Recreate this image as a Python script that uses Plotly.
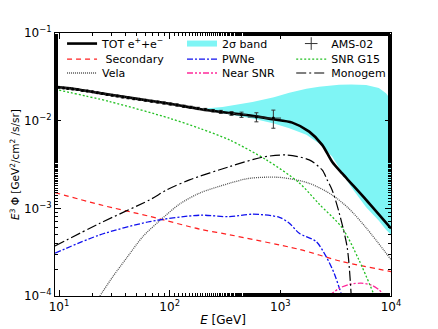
import plotly.graph_objects as go

# ---- data (E in GeV, E^3 Phi in GeV^2/cm^2/s/sr) ----
tot_e = [9.2, 12.6, 23.4, 40, 66, 110, 186, 370, 600, 847, 1282, 1824, 2388, 2937, 3622, 4365, 5960, 10000]
tot_flux = [0.0242, 0.0234, 0.0206, 0.0186, 0.0169, 0.0153, 0.0136, 0.0121, 0.0112, 0.0104, 0.0095,
            0.0075, 0.0053, 0.0034, 0.0025, 0.00193, 0.00125, 0.00059]

band_e = [200, 300, 560, 875, 1205, 1720, 2240, 2937, 3400, 4365, 5960, 7770, 9016, 10000]
band_hi = [0.0137, 0.0143, 0.0163, 0.0185, 0.0208, 0.0232, 0.0244, 0.0255, 0.0257, 0.0258,
           0.0255, 0.0236, 0.0205, 0.0172]
band_lo = [0.0133, 0.0121, 0.0106, 0.0093, 0.0082, 0.0069, 0.0055, 0.0039, 0.0029, 0.00175,
           0.00103, 0.00072, 0.00057, 0.0005]

ams_e = [10, 11, 12, 13.3, 14.7, 16.3, 18, 20, 22.2, 24.6, 27.3, 30.3, 33.7, 37.7, 42.3, 47.6,
         53.6, 60.6, 68.6, 77.9, 88.9, 101.6, 116.6, 134.3, 155.2, 180, 210, 246, 290, 362, 446, 608, 865]
ams_flux = [0.0240, 0.0236, 0.0233, 0.0229, 0.0226, 0.0221, 0.0218, 0.0214, 0.0208, 0.0204, 0.0199,
            0.0195, 0.0191, 0.0186, 0.0182, 0.0178, 0.0175, 0.0171, 0.0167, 0.0163, 0.0159, 0.0155,
            0.0151, 0.0146, 0.0142, 0.0138, 0.0134, 0.0130, 0.0126, 0.0121, 0.0117, 0.0110, 0.0107]
ams_err = [0.0004, 0.0004, 0.0004, 0.0004, 0.0004, 0.0004, 0.0004, 0.0004, 0.0004, 0.0004, 0.0004,
           0.0004, 0.0004, 0.0004, 0.0004, 0.0004, 0.0004, 0.0004, 0.0004, 0.0004, 0.0004, 0.0004,
           0.0004, 0.0004, 0.0004, 0.0004, 0.0004, 0.0004, 0.0005, 0.0006, 0.0008, 0.0013, 0.0025]
ams_xerr = [0.4, 0.5, 0.5, 0.6, 0.7, 0.7, 0.8, 0.9, 1.0, 1.1, 1.2, 1.4, 1.5, 1.7, 1.9, 2.2, 2.4, 2.8,
            3.1, 3.6, 4.1, 4.6, 5.4, 6.2, 7.2, 8.5, 10, 12, 15, 30, 50, 100, 150]

sec_e = [9.2, 23.4, 66, 186, 347, 1483, 3622, 10000]
sec_flux = [0.00151, 0.00110, 0.00081, 0.00058, 0.00050, 0.00034, 0.000247, 0.00019]

pwn_e = [9.2, 23.4, 66, 186, 347, 560, 980, 1205, 1483, 2110, 2595, 3063, 3400, 3700]
pwn_flux = [0.000308, 0.000498, 0.000705, 0.000834, 0.000803, 0.000857, 0.000790, 0.000676,
            0.00052, 0.000417, 0.000281, 0.000182, 0.000125, 0.00009]

snr_e = [9.2, 28.8, 100, 186, 347, 748, 1483, 2240, 3623, 5130, 7100]
snr_flux = [0.0228, 0.0165, 0.01064, 0.00818, 0.00603, 0.00357, 0.00195, 0.00112, 0.000598,
            0.000258, 0.0001]

vela_e = [23.4, 30.6, 40.7, 57.1, 81, 123, 186, 347, 526, 1000, 1824, 2937, 4140, 5960, 10000]
vela_flux = [0.0001, 0.000166, 0.00027, 0.000475, 0.00072, 0.00112, 0.00149, 0.00193, 0.0022,
             0.00225, 0.00193, 0.00142, 0.0010, 0.0006, 0.00026]

near_e = [2750, 3390, 4140, 5360, 6680, 7770, 8800]
near_flux = [0.0001, 0.000122, 0.000135, 0.00014, 0.000133, 0.000118, 0.0001]

mono_e = [9.2, 23.4, 66, 94, 151, 347, 689, 1132, 1824, 2388, 2650, 2937, 3400, 4018, 4365]
mono_flux = [0.000372, 0.000676, 0.00125, 0.00162, 0.00211, 0.00299, 0.00383, 0.00406, 0.00357,
             0.00274, 0.00211, 0.00162, 0.00089, 0.00036, 0.000103]

x_ticks = [10, 100, 1000, 10000]
x_ticktext = ["10<sup>1</sup>", "10<sup>2</sup>", "10<sup>3</sup>", "10<sup>4</sup>"]
y_ticks = [1e-4, 1e-3, 1e-2, 1e-1]
y_ticktext = ["10<sup>−4</sup>", "10<sup>−3</sup>", "10<sup>−2</sup>", "10<sup>−1</sup>"]

FONT = "DejaVu Sans, sans-serif"
BAND = "#7ff5f5"

# legend slots: 3 columns x 3 rows, one small legend per entry
LEG_X = [0.021, 0.378, 0.703]
LEG_Y = [1.015, 0.956, 0.903]

fig = go.Figure()

# 2 sigma band (filled between lower and upper edge)
fig.add_trace(go.Scatter(
    x=band_e + band_e[::-1], y=band_hi + band_lo[::-1],
    fill="toself", fillcolor=BAND, line=dict(width=0),
    mode="lines", showlegend=False, hoverinfo="skip",
))


def curve(x, y, name, color, width, dash, legend):
    return go.Scatter(x=x, y=y, name=name, mode="lines", legend=legend,
                      line=dict(color=color, width=width, dash=dash, shape="spline", smoothing=0.8))


fig.add_trace(curve(tot_e, tot_flux, "TOT e<sup>+</sup>+e<sup>−</sup>", "black", 2.6, "solid", "legend"))
fig.add_trace(curve(sec_e, sec_flux, " Secondary", "#ff2020", 1.2, "5px,4px", "legend2"))
fig.add_trace(curve(vela_e, vela_flux, "Vela", "#555555", 1.3, "1px,1px", "legend3"))
fig.add_trace(go.Scatter(x=[None], y=[None], mode="lines", name="2σ band", legend="legend4",
                         line=dict(color=BAND, width=6)))
fig.add_trace(curve(pwn_e, pwn_flux, "PWNe", "#1010ee", 1.3, "6px,2px,2px,2px", "legend5"))
fig.add_trace(curve(near_e, near_flux, "Near SNR", "#ff2a9a", 1.3, "6px,2px,2px,2px,2px,2px", "legend6"))
fig.add_trace(go.Scatter(
    x=ams_e, y=ams_flux, mode="markers", name="AMS-02", showlegend=False,
    marker=dict(color="black", size=3),
    error_y=dict(type="data", array=ams_err, color="#333333", thickness=1, width=2),
    error_x=dict(type="data", array=ams_xerr, color="#333333", thickness=1, width=0),
))
# legend sample for the data: a thin cross like an error bar
fig.add_trace(go.Scatter(x=[None], y=[None], mode="markers", name="AMS-02", legend="legend7",
                         marker=dict(symbol="cross-thin", size=9, color="black",
                                     line=dict(color="#333333", width=1))))
fig.add_trace(curve(snr_e, snr_flux, "SNR G15", "#22c022", 1.3, "2px,2px", "legend8"))
fig.add_trace(curve(mono_e, mono_flux, "Monogem", "black", 1.2, "10px,3px,2px,3px", "legend9"))

legend_style = dict(xanchor="left", yanchor="top", bgcolor="rgba(0,0,0,0)",
                    font=dict(family=FONT, size=11, color="black"), itemwidth=30)
legends = {}
for i in range(9):
    key = "legend" if i == 0 else f"legend{i + 1}"
    legends[key] = dict(legend_style, x=LEG_X[i // 3], y=LEG_Y[i % 3])

axis_common = dict(
    type="log", showline=True, linecolor="black", linewidth=1, mirror="ticks",
    ticks="inside", ticklen=6, tickcolor="black", showgrid=False, zeroline=False,
    tickfont=dict(family=FONT, size=12, color="black"),
    minor=dict(ticks="inside", ticklen=3, tickcolor="black", showgrid=False),
)

# the page body adds an 8px offset, so the figure is 8px smaller than the window
fig.update_layout(
    width=430, height=321,
    margin=dict(l=47, r=47, t=25, b=33, autoexpand=False),
    paper_bgcolor="white", plot_bgcolor="white",
    font=dict(family=FONT, size=11, color="black"),
    xaxis=dict(axis_common, range=[0.9638, 4], tickvals=x_ticks, ticktext=x_ticktext,
               title=dict(text="<i>E</i> [GeV]", standoff=2, font=dict(size=12))),
    yaxis=dict(axis_common, range=[-4, -1], tickvals=y_ticks, ticktext=y_ticktext,
               title=dict(text="<i>E</i><sup>3</sup> Φ [GeV<sup>2</sup>/cm<sup>2</sup> /s/sr]",
                          standoff=6, font=dict(size=10.5))),
    **legends,
)

fig.write_html("out.html")
